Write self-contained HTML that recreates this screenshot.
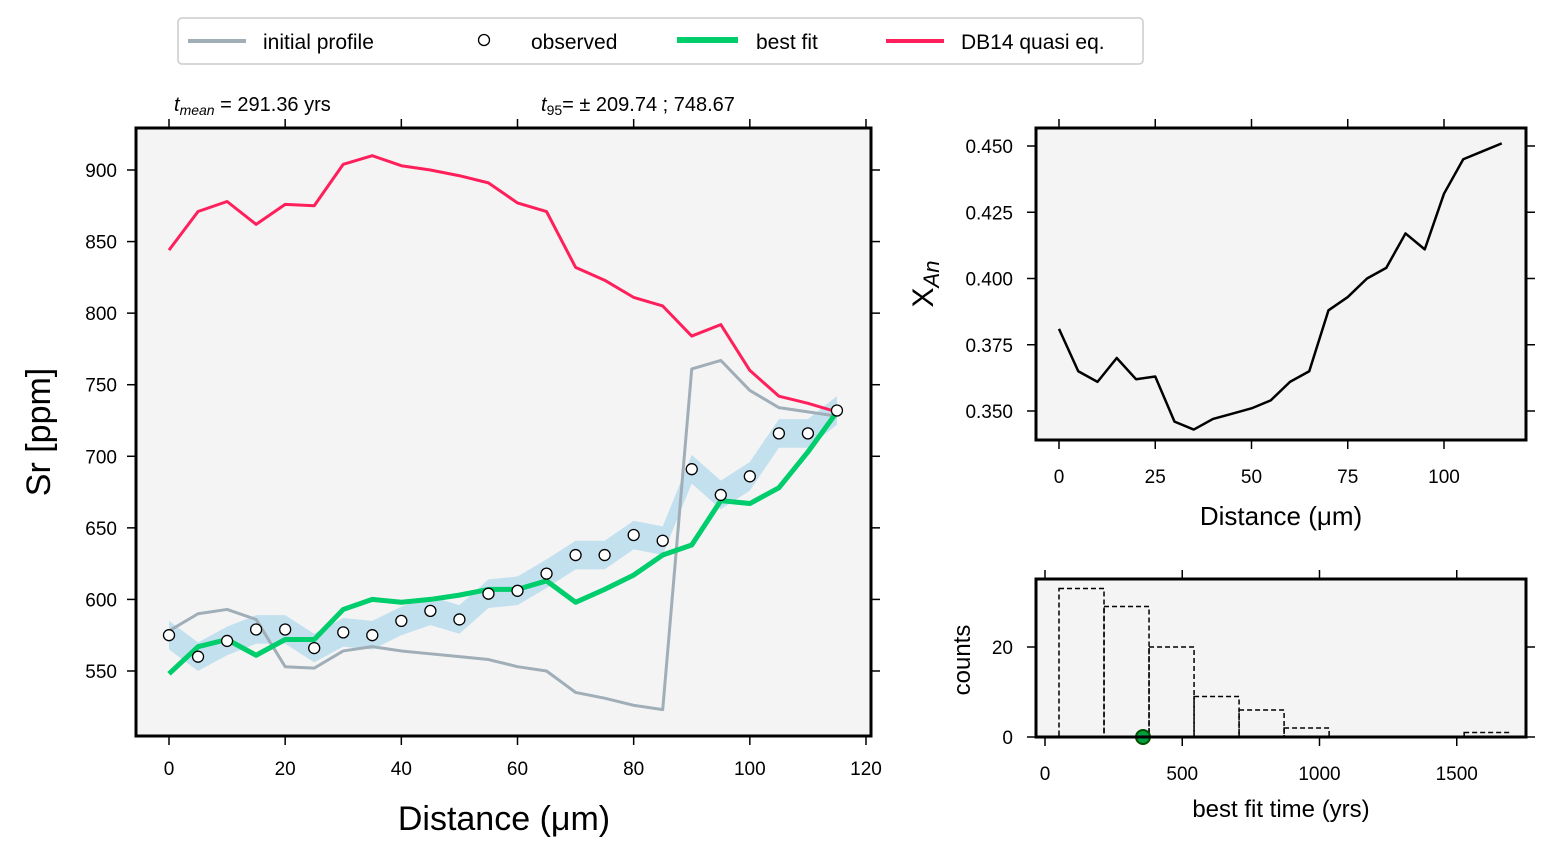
<!DOCTYPE html>
<html><head><meta charset="utf-8"><style>
body{margin:0;background:#fff;}
svg text{font-family:"Liberation Sans",sans-serif;fill:#000;}
</style></head><body>
<svg id="s" width="1558" height="861" xmlns="http://www.w3.org/2000/svg"></svg>
<script>
const dist=[0,5,10,15,20,25,30,35,40,45,50,55,60,65,70,75,80,85,90,95,100,105,110,115];
const observed=[575,560,571,579,579,566,577,575,585,592,586,604,606,618,631,631,645,641,691,673,686,716,716,732];
const initialProfile=[578,590,593,586,553,552,564,567,564,562,560,558,553,550,535,531,526,523,761,767,746,734,731,728];
const bestFit=[548,567,572,561,572,572,593,600,598,600,603,607,607,613,598,607,617,631,638,669,667,678,703,731];
const db14=[844,871,878,862,876,875,904,910,903,900,896,891,877,871,832,823,811,805,784,792,760,742,737,731];
const xan=[0.381,0.365,0.361,0.370,0.362,0.363,0.346,0.343,0.347,0.349,0.351,0.354,0.361,0.365,0.388,0.393,0.400,0.404,0.417,0.411,0.432,0.445,0.448,0.451];
const binEdges=[51,215,379,543,707,871,1035,1199,1363,1527,1691];
const counts=[33,29,20,9,6,2,0,0,0,1];
const bestTime=357;
const mainXTicks=[0,20,40,60,80,100,120];
const mainYTicks=[550,600,650,700,750,800,850,900];
const xanXTicks=[0,25,50,75,100];
const xanYTicks=[0.350,0.375,0.400,0.425,0.450];
const histXTicks=[0,500,1000,1500];
const histYTicks=[0,20];

const S=document.getElementById('s');const NS='http://www.w3.org/2000/svg';
function el(t,a,p){const e=document.createElementNS(NS,t);for(const k in a)e.setAttribute(k,a[k]);(p||S).appendChild(e);return e;}
function txt(x,y,s,sz,anchor,p,name){const e=el('text',{x:x,y:y,'font-size':sz,'text-anchor':anchor||'middle'},p);e.textContent=s;

return e;}

// main
const mx=v=>169+v*5.8083, my=v=>170+(900-v)*1.4314;
el('rect',{x:136,y:128,width:735,height:608,fill:'#f4f4f4'});
// band
let band='';dist.forEach((d,i)=>band+=(i?'L':'M')+mx(d)+','+my(observed[i]+10));
for(let i=dist.length-1;i>=0;i--)band+='L'+mx(dist[i])+','+my(observed[i]-10);
let b=el('path',{d:band+'Z',fill:'#c3e0ef'});


function line(xs,ys,fx,fy,col,w,name){const d=xs.map((x,i)=>(i?'L':'M')+fx(x)+','+fy(ys[i])).join('');const p=el('path',{d:d,fill:'none',stroke:col,'stroke-width':w,'stroke-linejoin':'round'});

}
line(dist,initialProfile,mx,my,'#a0aeb8',3,'initial-profile-line');
line(dist,db14,mx,my,'#ff1f5b',3,'db14-line');
line(dist,bestFit,mx,my,'#00cd6c',5,'best-fit-line');
dist.forEach((d,i)=>{const c=el('circle',{cx:mx(d),cy:my(observed[i]),r:5.5,fill:'#fff',stroke:'#000','stroke-width':1.3});

});
el('rect',{x:136,y:128,width:735,height:608,fill:'none',stroke:'#000','stroke-width':3});
mainXTicks.forEach(t=>{el('line',{x1:mx(t),x2:mx(t),y1:736,y2:745,stroke:'#000','stroke-width':1.5});
el('line',{x1:mx(t),x2:mx(t),y1:128,y2:119,stroke:'#000','stroke-width':1.5});
txt(mx(t),775,t,19,'middle',null,'x-tick-label');});
mainYTicks.forEach(t=>{el('line',{x1:136,x2:127,y1:my(t),y2:my(t),stroke:'#000','stroke-width':1.5});
el('line',{x1:871,x2:880,y1:my(t),y2:my(t),stroke:'#000','stroke-width':1.5});
txt(117,my(t)+7,t,19,'end',null,'y-tick-label');});
txt(504,830,'Distance (μm)',34,'middle',null,'x-axis-title');
let yt=txt(0,0,'Sr [ppm]',34,'middle',null,'y-axis-title');yt.setAttribute('transform','translate(50,432) rotate(-90)');
let t1=txt(174,111,'',20,'start',null,'t-mean-label');t1.innerHTML='<tspan font-style="italic">t</tspan><tspan font-size="14" font-style="italic" dy="4">mean</tspan><tspan dy="-4"> = 291.36 yrs</tspan>';
let t2=txt(541,111,'',20,'start',null,'t95-label');t2.innerHTML='<tspan font-style="italic">t</tspan><tspan font-size="14" dy="4">95</tspan><tspan dy="-4">= ±  209.74 ; 748.67</tspan>';

// xan
const ax=v=>1059+v*3.85, ay=v=>146+(0.450-v)*2650;
el('rect',{x:1036,y:128,width:490,height:312,fill:'#f4f4f4'});
line(dist,xan,ax,ay,'#000',2.5,'xan-line');
el('rect',{x:1036,y:128,width:490,height:312,fill:'none',stroke:'#000','stroke-width':3});
xanXTicks.forEach(t=>{el('line',{x1:ax(t),x2:ax(t),y1:440,y2:449,stroke:'#000','stroke-width':1.5});
el('line',{x1:ax(t),x2:ax(t),y1:128,y2:119,stroke:'#000','stroke-width':1.5});
txt(ax(t),483,t,19,'middle',null,'xan-x-tick-label');});
xanYTicks.forEach(t=>{el('line',{x1:1036,x2:1027,y1:ay(t),y2:ay(t),stroke:'#000','stroke-width':1.5});
el('line',{x1:1526,x2:1535,y1:ay(t),y2:ay(t),stroke:'#000','stroke-width':1.5});
txt(1013,ay(t)+7,t.toFixed(3),19,'end',null,'xan-y-tick-label');});
txt(1281,525,'Distance (μm)',26,'middle',null,'xan-x-axis-title');
let xt=txt(0,0,'',30,'middle',null,'xan-y-axis-title');xt.innerHTML='X<tspan font-size="22" font-style="italic" dy="6">An</tspan>';xt.setAttribute('transform','translate(933,284) rotate(-90)');

// hist
const hx=v=>1045+v*0.2745, hy=v=>737-v*4.5;
el('rect',{x:1036,y:579,width:490,height:158,fill:'#f4f4f4'});
counts.forEach((c,i)=>{if(!c)return;const r=el('rect',{x:hx(binEdges[i]),y:hy(c),width:hx(binEdges[i+1])-hx(binEdges[i]),height:737-hy(c),fill:'none',stroke:'#000','stroke-width':1.5,'stroke-dasharray':'5,3'});

});
let g=el('circle',{cx:hx(bestTime),cy:737,r:7,fill:'#00a040',stroke:'#005000','stroke-width':2});


el('rect',{x:1036,y:579,width:490,height:158,fill:'none',stroke:'#000','stroke-width':3});
histXTicks.forEach(t=>{el('line',{x1:hx(t),x2:hx(t),y1:737,y2:746,stroke:'#000','stroke-width':1.5});
el('line',{x1:hx(t),x2:hx(t),y1:579,y2:570,stroke:'#000','stroke-width':1.5});
txt(hx(t),780,t,19,'middle',null,'hist-x-tick-label');});
histYTicks.forEach(t=>{el('line',{x1:1036,x2:1027,y1:hy(t),y2:hy(t),stroke:'#000','stroke-width':1.5});
el('line',{x1:1526,x2:1535,y1:hy(t),y2:hy(t),stroke:'#000','stroke-width':1.5});
txt(1013,hy(t)+7,t,19,'end',null,'hist-y-tick-label');});
txt(1281,817,'best fit time (yrs)',24,'middle',null,'hist-x-axis-title');
let ct=txt(0,0,'counts',24,'middle',null,'hist-y-axis-title');ct.setAttribute('transform','translate(970,660) rotate(-90)');

// legend
const lg=el('g',{});
el('rect',{x:178,y:18,width:965,height:46,rx:4,fill:'#fff',stroke:'#ccc','stroke-width':1.5},lg);
el('line',{x1:188,x2:246,y1:41,y2:41,stroke:'#a0aeb8','stroke-width':4},lg);
txt(263,49,'initial profile',21,'start',lg,'legend-initial-profile');
el('circle',{cx:484,cy:40,r:5.5,fill:'#fff',stroke:'#000','stroke-width':1.3},lg);
txt(531,49,'observed',21,'start',lg,'legend-observed');
el('line',{x1:677,x2:738,y1:40,y2:40,stroke:'#00cd6c','stroke-width':6},lg);
txt(756,49,'best fit',21,'start',lg,'legend-best-fit');
el('line',{x1:886,x2:944,y1:41,y2:41,stroke:'#ff1f5b','stroke-width':4},lg);
txt(961,49,'DB14 quasi eq.',21,'start',lg,'legend-db14');
</script>
</body></html>
